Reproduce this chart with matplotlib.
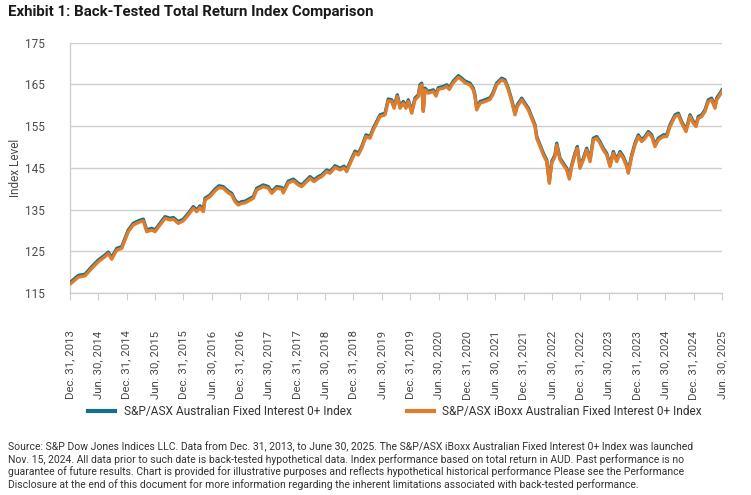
import matplotlib
matplotlib.use("Agg")
import matplotlib.pyplot as plt
from matplotlib.lines import Line2D

plt.rcParams['font.family'] = ['Roboto', 'DejaVu Sans']

# ---- data (decimal years, index levels) ----
years = [
    2014.018, 2014.146, 2014.265, 2014.383, 2014.499, 2014.617, 2014.676, 2014.736, 2014.824, 2014.912,
    2014.970, 2015.028, 2015.116, 2015.205, 2015.293, 2015.353, 2015.441, 2015.499, 2015.587, 2015.676,
    2015.764, 2015.822, 2015.910, 2015.998, 2016.087, 2016.175, 2016.235, 2016.293, 2016.351, 2016.381,
    2016.469, 2016.558, 2016.628, 2016.704, 2016.792, 2016.852, 2016.910, 2016.969, 2017.029, 2017.087,
    2017.233, 2017.293, 2017.409, 2017.498, 2017.558, 2017.646, 2017.734, 2017.762, 2017.850, 2017.939,
    2018.027, 2018.087, 2018.145, 2018.233, 2018.304, 2018.380, 2018.439, 2018.528, 2018.586, 2018.674,
    2018.762, 2018.833, 2018.880, 2018.969, 2019.027, 2019.085, 2019.145, 2019.221, 2019.291, 2019.350,
    2019.410, 2019.468, 2019.556, 2019.614, 2019.674, 2019.715, 2019.773, 2019.821, 2019.879, 2019.926,
    2019.967, 2020.027, 2020.085, 2020.143, 2020.173,
    2020.203, 2020.231, 2020.261, 2020.320, 2020.408, 2020.456, 2020.496, 2020.584, 2020.644, 2020.690,
    2020.761, 2020.849, 2020.909, 2020.967, 2021.055, 2021.113, 2021.143, 2021.173, 2021.232, 2021.320,
    2021.408, 2021.456, 2021.526, 2021.614, 2021.672, 2021.731, 2021.791, 2021.849, 2021.890, 2021.967,
    2022.025, 2022.084, 2022.144, 2022.202, 2022.232, 2022.290, 2022.350, 2022.408, 2022.454, 2022.496,
    2022.554, 2022.585,
    2022.643, 2022.701, 2022.761, 2022.807, 2022.849, 2022.907, 2022.948, 2022.995, 2023.054, 2023.114,
    2023.172, 2023.230, 2023.290, 2023.348, 2023.406, 2023.466, 2023.525, 2023.583, 2023.643, 2023.701,
    2023.759, 2023.819, 2023.847, 2023.907, 2023.965, 2024.024, 2024.084, 2024.142, 2024.200, 2024.260,
    2024.318, 2024.377, 2024.465, 2024.525, 2024.583, 2024.671, 2024.729, 2024.789, 2024.865, 2024.936,
    2024.994, 2025.041, 2025.082, 2025.142, 2025.200, 2025.258, 2025.318, 2025.376, 2025.406, 2025.464,
    2025.500,
]

afi_index = [
    117.7, 119.2, 119.5, 121.3, 122.9, 124.1, 124.8, 123.5, 125.7, 126.1,
    128.1, 130.1, 131.7, 132.3, 132.7, 130.1, 130.5, 130.1, 131.7, 133.3,
    132.9, 133.1, 132.1, 132.7, 134.1, 135.7, 134.9, 135.9, 134.9, 137.7,
    138.5, 139.9, 140.7, 140.5, 139.4, 138.9, 137.3, 136.5, 136.9, 137.0,
    138.1, 140.1, 140.9, 140.5, 139.3, 140.5, 140.3, 139.4, 141.8, 142.3,
    141.3, 140.9, 141.7, 142.9, 142.1, 142.9, 143.3, 144.5, 144.1, 145.5,
    144.9, 145.4, 144.5, 147.3, 149.0, 148.5, 150.1, 152.9, 152.5, 154.5,
    156.1, 157.7, 158.1, 161.5, 161.3, 159.7, 162.5, 159.7, 160.9, 159.7,
    161.3, 158.5, 161.7, 162.5, 164.9,
    165.3, 158.9, 164.1, 163.3, 163.7, 162.6, 164.2, 164.5, 164.9, 164.2,
    165.8, 167.1, 166.5, 165.8, 165.3, 164.1, 162.5, 159.3, 160.9, 161.3,
    161.8, 162.9, 165.3, 166.5, 166.1, 164.1, 161.3, 158.1, 160.1, 161.7,
    160.5, 159.3, 157.3, 155.3, 152.5, 150.5, 148.5, 146.9, 141.7, 146.5,
    148.1, 150.9,
    147.3, 146.1, 144.9, 142.7, 145.7, 148.5, 150.1, 145.3, 147.3, 149.7,
    146.9, 152.1, 152.5, 151.3, 149.7, 148.5, 145.7, 148.9, 146.9, 148.9,
    147.7, 145.7, 144.1, 148.1, 150.9, 152.9, 151.7, 152.5, 153.7, 152.9,
    150.5, 152.1, 152.9, 152.9, 155.3, 157.7, 158.1, 156.1, 154.1, 157.7,
    156.1, 155.3, 157.3, 157.7, 158.9, 161.3, 161.7, 159.7, 161.7, 162.9,
    163.7,
]

iboxx_index = [
    117.3, 118.8, 119.1, 120.9, 122.5, 123.7, 124.4, 123.1, 125.3, 125.7,
    127.7, 129.7, 131.3, 131.9, 132.3, 129.7, 130.1, 129.7, 131.3, 132.9,
    132.5, 132.7, 131.7, 132.3, 133.7, 135.3, 134.5, 135.5, 134.5, 137.3,
    138.1, 139.5, 140.3, 140.1, 139.0, 138.5, 136.9, 136.1, 136.5, 136.6,
    137.7, 139.7, 140.5, 140.1, 138.9, 140.1, 139.9, 139.0, 141.4, 141.9,
    140.9, 140.5, 141.3, 142.5, 141.7, 142.5, 142.9, 144.1, 143.7, 145.1,
    144.5, 145.0, 144.1, 146.9, 148.6, 148.1, 149.7, 152.5, 152.1, 154.1,
    155.7, 157.3, 157.7, 161.1, 160.9, 159.3, 162.1, 159.3, 160.5, 159.3,
    160.9, 158.1, 161.3, 162.1, 164.5,
    164.9, 158.5, 163.7, 162.9, 163.3, 162.2, 163.8, 164.1, 164.5, 163.8,
    165.4, 166.7, 166.1, 165.4, 164.9, 163.7, 162.1, 158.9, 160.5, 160.9,
    161.4, 162.5, 164.9, 166.1, 165.7, 163.7, 160.9, 157.7, 159.7, 161.3,
    160.1, 158.9, 156.9, 154.9, 152.1, 150.1, 148.1, 146.5, 141.3, 146.1,
    147.7, 150.5,
    146.9, 145.7, 144.5, 142.3, 145.3, 148.1, 149.7, 144.9, 146.9, 149.3,
    146.5, 151.7, 152.1, 150.9, 149.3, 148.1, 145.3, 148.5, 146.5, 148.5,
    147.3, 145.3, 143.7, 147.7, 150.5, 152.5, 151.3, 152.1, 153.3, 152.5,
    150.1, 151.7, 152.5, 152.5, 154.9, 157.3, 157.7, 155.7, 153.7, 157.3,
    155.7, 154.9, 156.9, 157.3, 158.5, 160.9, 161.3, 159.3, 161.3, 162.5,
    163.3,
]

series_names = ["S&P/ASX Australian Fixed Interest 0+ Index",
                "S&P/ASX iBoxx Australian Fixed Interest 0+ Index"]

tick_years = [2014.0 + 0.5 * i for i in range(24)]
tick_labels = []
for i in range(24):
    if i % 2 == 0:
        tick_labels.append(f"Dec. 31, {2013 + i // 2}")
    else:
        tick_labels.append(f"Jun. 30, {2014 + i // 2}")

y_ticks = [115, 125, 135, 145, 155, 165, 175]

title = "Exhibit 1: Back-Tested Total Return Index Comparison"
footnote = ("Source: S&P Dow Jones Indices LLC. Data from Dec. 31, 2013, to June 30, 2025. The S&P/ASX iBoxx Australian Fixed Interest 0+ Index was launched\n"
            "Nov. 15, 2024. All data prior to such date is back-tested hypothetical data. Index performance based on total return in AUD. Past performance is no\n"
            "guarantee of future results. Chart is provided for illustrative purposes and reflects hypothetical historical performance Please see the Performance\n"
            "Disclosure at the end of this document for more information regarding the inherent limitations associated with back-tested performance.")

TEAL = "#14708c"
ORANGE = "#e07d2c"
GRID = "#cfcfcf"
TXT = "#4a4a4a"

fig = plt.figure(figsize=(7.51, 4.95), dpi=100)
ax = fig.add_axes([70 / 751, 1 - 293 / 495, (722 - 70) / 751, (293 - 42.7) / 495])

ax.plot(years, afi_index, color=TEAL, lw=2.4, solid_joinstyle='round', zorder=3)
ax.plot(years, iboxx_index, color=ORANGE, lw=2.4, solid_joinstyle='round', zorder=4)

ax.set_xlim(2014.0, 2025.5)
ax.set_ylim(115, 175)
ax.set_yticks(y_ticks)
ax.set_yticklabels([str(v) for v in y_ticks])
ax.set_xticks(tick_years)
ax.set_xticklabels(tick_labels, rotation=90, va='top', ha='center')

ax.grid(axis='y', color=GRID, lw=1.0)
ax.set_axisbelow(True)
for s in ['top', 'right']:
    ax.spines[s].set_visible(False)
ax.spines['left'].set_color(GRID)
ax.spines['bottom'].set_color(GRID)
ax.spines['left'].set_linewidth(1.0)
ax.spines['bottom'].set_linewidth(1.0)

ax.tick_params(axis='y', length=0, pad=18, labelsize=8.5, labelcolor=TXT)
ax.tick_params(axis='x', length=5, color=GRID, pad=22, labelsize=8.2, labelcolor=TXT)

ax.set_ylabel("Index Level", fontsize=8.5, color=TXT)
ax.yaxis.set_label_coords(-0.074, 0.5)

fig.text(8 / 751, 1 - 12 / 495, title, fontsize=10.8, fontweight='bold',
         color="#1a1a1a", ha='left', va='center')

handles = [Line2D([0], [0], color=TEAL, lw=3),
           Line2D([0], [0], color=ORANGE, lw=3)]
fig.legend(handles, series_names, loc='center', bbox_to_anchor=(395 / 751, 1 - 412 / 495),
           ncol=2, frameon=False, fontsize=8.6, handlelength=2.3, handletextpad=0.7,
           columnspacing=4.6, labelcolor="#333333")

fig.text(8 / 751, 1 - 441 / 495, footnote, fontsize=7.45, color="#333333",
         ha='left', va='top', linespacing=1.22)

fig.savefig("out.png", dpi=100)
